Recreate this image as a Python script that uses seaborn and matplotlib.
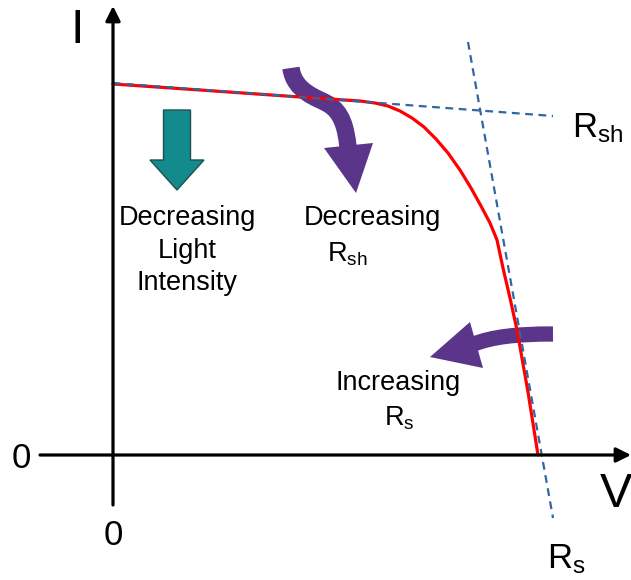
import numpy as np
import pandas as pd
import seaborn as sns
import matplotlib.pyplot as plt
from matplotlib.path import Path
from matplotlib.patches import PathPatch, Polygon, FancyArrow

# I-V curve (pixel-space diagram coordinates: x to the right, y downwards)
iv_x = [113, 200, 300, 360, 375, 388, 400, 412, 424, 436, 448, 460, 471,
        481, 490, 497, 503, 510, 517, 528, 538]
iv_y = [84, 90, 97, 101, 103, 106, 111, 118, 127, 139, 153, 170, 188,
        206, 223, 240, 268, 298, 330, 392, 455]

# tangent lines
rsh_x = [113, 553]
rsh_y = [83, 116]
rs_x = [468, 553]
rs_y = [42, 518]

purple = '#5b3589'
teal = '#138a8c'
dash_blue = '#2f66a3'

sns.set_style('white')
plt.rcParams['font.family'] = ['Liberation Sans', 'DejaVu Sans']
plt.rcParams['text.color'] = 'black'
plt.rcParams['mathtext.fontset'] = 'custom'
plt.rcParams['mathtext.rm'] = 'Liberation Sans'
plt.rcParams['mathtext.default'] = 'regular'

fig = plt.figure(figsize=(6.31, 5.80), dpi=100)
ax = fig.add_axes([0, 0, 1, 1])
ax.set_xlim(0, 631)
ax.set_ylim(580, 0)
ax.axis('off')

# axes with arrowheads
ax.annotate('', xy=(113, 6), xytext=(113, 505), annotation_clip=False,
            arrowprops=dict(arrowstyle='-|>', lw=2.3, color='black',
                            mutation_scale=22, shrinkA=0, shrinkB=0))
ax.annotate('', xy=(631, 455), xytext=(40, 455), annotation_clip=False,
            arrowprops=dict(arrowstyle='-|>', lw=2.3, color='black',
                            mutation_scale=22, shrinkA=0, shrinkB=0))

df_iv = pd.DataFrame({'V': iv_x, 'I': iv_y})
sns.lineplot(data=df_iv, x='V', y='I', color='red', lw=2.3, sort=False,
             estimator=None, ax=ax)
for xs, ys in [(rsh_x, rsh_y), (rs_x, rs_y)]:
    sns.lineplot(x=xs, y=ys, color=dash_blue, lw=1.6, sort=False,
                 estimator=None, ax=ax)
    ax.lines[-1].set_dashes([3.5, 2.5])

# teal arrow
ax.add_patch(FancyArrow(177, 110, 0, 80, width=27, head_width=54,
                        head_length=30, length_includes_head=True,
                        facecolor=teal, edgecolor='#1f4f50', lw=1))

# purple arrow: decreasing Rsh
p1 = Path([(291, 68), (294, 92), (318, 98), (328, 104),
           (342, 112), (346, 128), (348, 147)],
          [Path.MOVETO, Path.CURVE4, Path.CURVE4, Path.CURVE4,
           Path.CURVE4, Path.CURVE4, Path.CURVE4])
ax.add_patch(PathPatch(p1, fill=False, lw=12.5, edgecolor=purple, capstyle='butt'))
ax.add_patch(Polygon([(324, 148), (373, 143), (356, 193)], closed=True,
                     facecolor=purple, edgecolor='none'))

# purple arrow: increasing Rs
p2 = Path([(553, 334), (515, 334), (492, 337), (474, 344)],
          [Path.MOVETO, Path.CURVE4, Path.CURVE4, Path.CURVE4])
ax.add_patch(PathPatch(p2, fill=False, lw=11, edgecolor=purple, capstyle='butt'))
ax.add_patch(Polygon([(470, 322), (483, 368), (430, 357)], closed=True,
                     facecolor=purple, edgecolor='none'))

# labels
ax.text(77, 43, 'I', fontsize=35, ha='center', va='baseline')
ax.text(616, 507, 'V', fontsize=35, ha='center', va='baseline')
ax.text(21, 468, '0', fontsize=25, ha='center', va='baseline')
ax.text(113, 545, '0', fontsize=25, ha='center', va='baseline')
ax.text(572, 137, r'R$_{sh}$', fontsize=25, ha='left', va='baseline')
ax.text(547, 568, r'R$_{s}$', fontsize=25, ha='left', va='baseline')

fs = 19.5
for txt, yb in [('Decreasing', 225), ('Light', 258), ('Intensity', 290)]:
    ax.text(187, yb, txt, fontsize=fs, ha='center', va='baseline')
ax.text(372, 225, 'Decreasing', fontsize=fs, ha='center', va='baseline')
ax.text(327, 261, r'R$_{sh}$', fontsize=fs, ha='left', va='baseline')
ax.text(398, 390, 'Increasing', fontsize=fs, ha='center', va='baseline')
ax.text(384, 425, r'R$_{s}$', fontsize=fs, ha='left', va='baseline')

fig.savefig('out.png', dpi=100)
